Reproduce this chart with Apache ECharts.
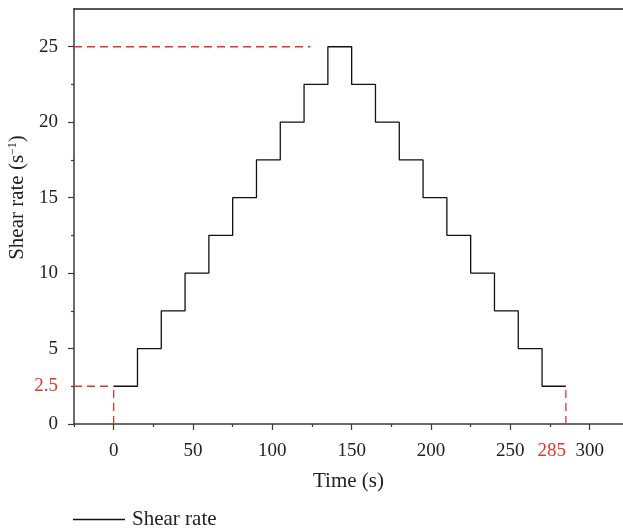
<!DOCTYPE html>
<html>
<head>
<meta charset="utf-8">
<script src="https://cdn.jsdelivr.net/npm/echarts@6/dist/echarts.min.js"></script>
<style>html,body{margin:0;padding:0;background:#fff}#c{width:623px;height:528px}</style>
</head>
<body>
<div id="c"></div>
<script>
// Data
var times = [0, 15, 30, 45, 60, 75, 90, 105, 120, 135, 150, 165, 180, 195, 210, 225, 240, 255, 270, 285];
var shearRate = [2.5, 5, 7.5, 10, 12.5, 15, 17.5, 20, 22.5, 25, 22.5, 20, 17.5, 15, 12.5, 10, 7.5, 5, 2.5, 2.5];
// reference (red dashed) guide lines
var guideTop = [[-25, 25], [124, 25]];
var guideStartH = [[-25, 2.5], [0, 2.5]];
var guideStartV = [[0, 0], [0, 2.5]];
var guideEndV = [[285, 0], [285, 2.5]];
// tick labels
var xMajorTicks = [0, 50, 100, 150, 200, 250, 300];
var xMinorTicks = [-25, 25, 75, 125, 175, 225, 275];
var xLabels = [0, 50, 100, 150, 200, 250, 300];
var xRedLabels = [285];
var yMajorTicks = [0, 5, 10, 15, 20, 25];
var yMinorTicks = [2.5, 7.5, 12.5, 17.5, 22.5];
var yLabels = [0, 5, 10, 15, 20, 25];
var yRedLabels = [2.5];

var RED = '#e5342c';
var AXIS = '#3a3a3a';
var INK = '#222';
var FONT = 'Liberation Serif';
var FS = 19;
var FN = 21;

var xBase = { type: 'value', min: -25, max: 321, splitLine: { show: false } };
var yBase = { type: 'value', min: 0, max: 27.5, splitLine: { show: false } };
var noLine = { show: false, onZero: false };

var chart = echarts.init(document.getElementById('c'));
chart.setOption({
  animation: false,
  backgroundColor: '#fff',
  grid: { left: 74, right: 0, top: 9, bottom: 104, containLabel: false, outerBoundsMode: 'none' },
  legend: {
    left: 73, top: 509, padding: 0, itemWidth: 52, itemHeight: 1.5, itemGap: 6,
    data: [{ name: 'Shear rate', icon: 'rect' }],
    textStyle: { fontFamily: FONT, fontSize: FN, color: INK, padding: [0, 0, 0, 2] }
  },
  xAxis: [
    Object.assign({}, xBase, {
      position: 'bottom',
      axisLine: { show: true, onZero: false, lineStyle: { color: AXIS, width: 1.5 } },
      axisTick: { show: true, inside: false, length: 3, customValues: xMinorTicks, lineStyle: { color: AXIS, width: 1.2 } },
      axisLabel: { show: false }
    }),
    Object.assign({}, xBase, {
      position: 'bottom',
      axisLine: noLine,
      axisTick: { show: true, inside: false, length: 6, customValues: xMajorTicks, lineStyle: { color: AXIS, width: 1.2 } },
      axisLabel: { show: true, customValues: xLabels, margin: 18, hideOverlap: false,
        fontFamily: FONT, fontSize: FS, color: INK },
      name: 'Time (s)', nameLocation: 'middle', nameGap: 47,
      nameTextStyle: { fontFamily: FONT, fontSize: FN, color: INK }
    }),
    Object.assign({}, xBase, {
      position: 'bottom',
      axisLine: noLine, axisTick: { show: false },
      axisLabel: { show: true, customValues: xRedLabels, margin: 18, hideOverlap: false, align: 'right',
        fontFamily: FONT, fontSize: FS, color: RED }
    }),
    Object.assign({}, xBase, {
      position: 'top',
      axisLine: { show: true, onZero: false, lineStyle: { color: INK, width: 1.5 } },
      axisTick: { show: false }, axisLabel: { show: false }
    })
  ],
  yAxis: [
    Object.assign({}, yBase, {
      position: 'left',
      axisLine: { show: true, onZero: false, lineStyle: { color: AXIS, width: 1.5 } },
      axisTick: { show: true, inside: false, length: 6, customValues: yMajorTicks, lineStyle: { color: AXIS, width: 1.2 } },
      axisLabel: { show: true, customValues: yLabels, margin: 16, hideOverlap: false,
        fontFamily: FONT, fontSize: FS, color: INK },
      name: 'Shear rate (s{sup|−1})', nameLocation: 'middle', nameGap: 46,
      nameTextStyle: { fontFamily: FONT, fontSize: FN, color: INK, padding: [0, 0, 0, 38],
        rich: { sup: { fontFamily: FONT, fontSize: 12, color: INK, padding: [0, 0, 9, 0] } } }
    }),
    Object.assign({}, yBase, {
      position: 'left',
      axisLine: noLine,
      axisTick: { show: true, inside: false, length: 3, customValues: yMinorTicks, lineStyle: { color: AXIS, width: 1.2 } },
      axisLabel: { show: false }
    }),
    Object.assign({}, yBase, {
      position: 'left',
      axisLine: noLine, axisTick: { show: false },
      axisLabel: { show: true, customValues: yRedLabels, margin: 16, hideOverlap: false,
        fontFamily: FONT, fontSize: FS, color: RED }
    })
  ],
  series: [
    {
      name: 'Shear rate', type: 'line', step: 'end', xAxisIndex: 0, yAxisIndex: 0,
      data: times.map(function (t, i) { return [t, shearRate[i]]; }),
      showSymbol: false, symbol: 'none',
      lineStyle: { color: '#111', width: 1.3 }, itemStyle: { color: '#111' }
    }
  ].concat([guideTop, guideStartH, guideStartV, guideEndV].map(function (d) {
    return {
      type: 'line', xAxisIndex: 0, yAxisIndex: 0, data: d, symbol: 'none', silent: true,
      lineStyle: { color: RED, width: 1.3, type: [8, 5] }
    };
  }))
});
</script>
</body>
</html>
